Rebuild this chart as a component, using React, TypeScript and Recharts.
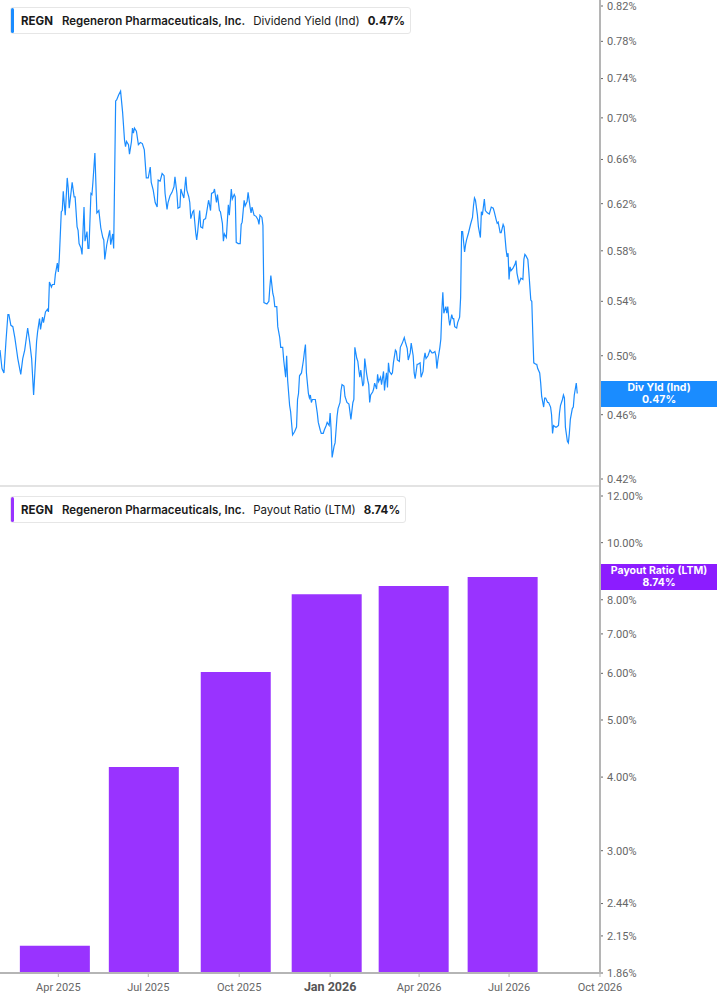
import React from 'react'
import {
  LineChart,
  Line,
  BarChart,
  Bar,
  XAxis,
  YAxis,
} from 'recharts'

// day offset from Feb 1 2025, dividend yield (%)
const yieldSeries: [number, number][] = [
  [0, .504], [2, .491], [4, .488], [6, .510], [8, .530], [9, .530], [11, .522], [13, .521], [15, .513], [17, .503],
  [18, .498], [21, .487], [23, .498], [25, .504], [28, .520], [30, .510], [32, .498], [34, .473], [37, .510], [38, .517],
  [40, .527], [41, .519], [43, .528], [44, .524], [46, .532], [48, .534], [49, .532], [50, .555], [52, .551], [53, .553],
  [55, .553], [56, .561], [58, .570], [59, .563], [60, .574], [62, .613], [63, .614], [64, .631], [66, .610], [68, .643],
  [69, .634], [70, .616], [72, .631], [73, .639], [75, .626], [76, .626], [78, .600], [79, .597], [80, .586], [82, .582],
  [83, .577], [85, .617], [86, .588], [88, .596], [89, .582], [90, .582], [92, .629], [93, .628], [94, .639], [96, .666],
  [98, .612], [100, .614], [102, .599], [104, .591], [105, .589], [106, .573], [108, .585], [111, .597], [112, .585], [114, .594],
  [115, .582], [117, .717], [118, .718], [120, .723], [122, .727], [124, .706], [126, .678], [127, .672], [128, .677], [130, .674],
  [131, .665], [133, .677], [134, .690], [135, .685], [136, .690], [138, .687], [140, .674], [142, .676], [144, .675], [146, .669],
  [148, .643], [150, .643], [152, .653], [153, .639], [155, .632], [157, .621], [159, .617], [160, .641], [162, .640], [164, .647],
  [166, .645], [167, .629], [169, .615], [170, .621], [172, .627], [174, .630], [176, .635], [177, .644], [179, .629], [180, .616],
  [182, .617], [183, .633], [184, .630], [186, .625], [188, .644], [189, .632], [191, .626], [192, .621], [193, .607], [195, .613],
  [196, .614], [198, .595], [199, .589], [200, .596], [202, .614], [203, .600], [205, .599], [206, .606], [208, .607], [209, .612],
  [211, .623], [212, .619], [213, .614], [214, .629], [216, .630], [217, .633], [219, .621], [220, .628], [222, .614], [223, .613],
  [225, .603], [226, .588], [227, .594], [229, .591], [231, .619], [232, .610], [234, .633], [235, .624], [237, .628], [238, .626],
  [239, .587], [241, .586], [243, .586], [244, .602], [245, .604], [247, .623], [248, .618], [250, .622], [251, .630], [253, .617],
  [254, .612], [255, .617], [257, .610], [259, .609], [261, .606], [262, .602], [263, .610], [265, .608], [266, .601], [267, .539],
  [270, .538], [272, .540], [273, .551], [274, .560], [276, .546], [277, .543], [278, .536], [280, .536], [281, .521], [283, .513],
  [284, .506], [286, .506], [287, .497], [289, .485], [290, .500], [291, .483], [293, .466], [294, .462], [296, .447], [298, .449],
  [300, .452], [301, .470], [302, .474], [303, .486], [305, .488], [307, .497], [308, .503], [309, .508], [310, .488], [312, .474],
  [313, .471], [314, .473], [315, .468], [316, .470], [317, .470], [319, .470], [321, .461], [322, .455], [324, .450], [325, .448],
  [327, .448], [328, .450], [330, .453], [331, .455], [333, .453], [334, .461], [335, .450], [336, .433], [338, .440], [339, .442],
  [341, .459], [342, .464], [344, .468], [345, .476], [346, .480], [348, .479], [349, .472], [351, .468], [353, .467], [354, .462],
  [355, .457], [357, .468], [358, .470], [359, .506], [361, .498], [362, .496], [363, .490], [364, .485], [365, .490], [367, .479],
  [368, .481], [369, .498], [371, .487], [372, .483], [373, .480], [374, .468], [375, .473], [377, .475], [378, .477], [379, .481],
  [381, .477], [382, .487], [383, .482], [385, .485], [386, .480], [388, .489], [389, .476], [390, .483], [391, .488], [392, .478],
  [393, .495], [394, .489], [396, .487], [397, .488], [398, .495], [400, .504], [401, .503], [402, .497], [404, .496], [405, .506],
  [407, .509], [409, .513], [410, .510], [412, .505], [413, .497], [415, .502], [416, .509], [418, .500], [419, .488], [420, .484],
  [422, .494], [423, .494], [425, .495], [426, .485], [428, .489], [429, .498], [430, .502], [431, .498], [433, .500], [434, .502],
  [435, .504], [437, .502], [438, .502], [440, .503], [441, .500], [442, .491], [443, .497], [445, .506], [446, .512], [447, .533],
  [448, .547], [449, .531], [451, .536], [452, .531], [453, .536], [454, .527], [455, .522], [457, .530], [458, .527], [459, .527],
  [460, .521], [462, .520], [463, .524], [465, .528], [466, .543], [467, .596], [468, .596], [470, .579], [471, .585], [472, .589],
  [474, .595], [476, .602], [478, .608], [479, .618], [480, .625], [481, .623], [483, .610], [484, .600], [486, .591], [487, .613],
  [488, .610], [490, .624], [491, .614], [493, .612], [495, .611], [497, .617], [499, .616], [500, .613], [502, .606], [503, .603],
  [504, .604], [506, .595], [507, .595], [509, .602], [510, .600], [512, .581], [513, .575], [514, .578], [515, .557], [516, .567],
  [517, .564], [519, .566], [521, .569], [522, .572], [523, .562], [525, .554], [526, .556], [527, .558], [529, .557], [530, .573],
  [531, .577], [532, .576], [534, .573], [535, .563], [537, .541], [538, .540], [539, .516], [540, .495], [542, .494], [543, .494],
  [544, .491], [546, .488], [547, .481], [548, .472], [550, .465], [551, .471], [552, .471], [554, .468], [555, .468], [557, .465],
  [558, .460], [559, .448], [560, .453], [562, .452], [563, .452], [565, .453], [566, .461], [567, .466], [569, .470], [570, .473],
  [571, .471], [572, .452], [574, .443], [575, .442], [576, .448], [577, .457], [579, .464], [580, .465], [581, .473], [583, .481],
  [584, .474],
]

const payoutDays = [56, 146, 239, 331, 419, 509]
const payoutValues = [2.07, 4.16, 6.03, 8.17, 8.44, 8.74]

const xTickDays = [59, 150, 242, 334, 424, 515, 607]
const xTickLabels = ['Apr 2025', 'Jul 2025', 'Oct 2025', 'Jan 2026', 'Apr 2026', 'Jul 2026', 'Oct 2026']
const yieldTicks = [0.42, 0.46, 0.5, 0.54, 0.58, 0.62, 0.66, 0.7, 0.74, 0.78, 0.82]
const payoutTicks = [1.86, 2.15, 2.44, 3, 4, 5, 6, 7, 8, 10, 12]

const BLUE = '#1A8CFF'
const PURPLE = '#9933FF'
const AXIS = '#b5b5b5'
const TICK_TEXT = '#666'

const yieldData = yieldSeries.map(([day, value]) => ({ day, value }))
const payoutData = payoutDays.map((day, i) => ({ day, value: payoutValues[i] }))

const pct = (v: number) => `${v.toFixed(2)}%`

const yTick = { fontSize: 11, fill: TICK_TEXT, fontFamily: 'Roboto, sans-serif' }

function XTick({ x, y, payload }: any) {
  const i = xTickDays.indexOf(payload.value)
  const label = xTickLabels[i] ?? ''
  const bold = label.startsWith('Jan')
  return (
    <text
      x={x}
      y={y + 12}
      textAnchor="middle"
      fontSize={bold ? 12.5 : 11}
      fontWeight={bold ? 700 : 400}
      fill={bold ? '#555' : TICK_TEXT}
      fontFamily="Roboto, sans-serif"
    >
      {label}
    </text>
  )
}

function Legend({ top, color, metric, value }: { top: number; color: string; metric: string; value: string }) {
  return (
    <div
      style={{
        position: 'absolute',
        left: 10,
        top,
        height: 25,
        display: 'flex',
        alignItems: 'center',
        background: '#fff',
        border: '1px solid #e6e6e6',
        borderRadius: 3,
        fontFamily: 'Inter, sans-serif',
        fontSize: 11.5,
        color: '#1a1a1a',
        whiteSpace: 'nowrap',
        paddingRight: 5,
      }}
    >
      <div style={{ width: 3, alignSelf: 'stretch', background: color, borderRadius: 2, marginRight: 7 }} />
      <span style={{ fontWeight: 700, marginRight: 9 }}>REGN</span>
      <span style={{ fontWeight: 600, marginRight: 8 }}>Regeneron Pharmaceuticals, Inc.</span>
      <span style={{ fontWeight: 400, marginRight: 8 }}>{metric}</span>
      <span style={{ fontWeight: 700 }}>{value}</span>
    </div>
  )
}

function Badge({ top, color, title, value }: { top: number; color: string; title: string; value: string }) {
  return (
    <div
      style={{
        position: 'absolute',
        left: 601,
        top,
        width: 116,
        height: 26,
        background: color,
        color: '#fff',
        fontFamily: 'Inter, sans-serif',
        fontWeight: 700,
        fontSize: 10.5,
        lineHeight: '12px',
        textAlign: 'center',
        paddingTop: 1,
        boxSizing: 'border-box',
      }}
    >
      <div>{title}</div>
      <div>{value}</div>
    </div>
  )
}

export default function App() {
  return (
    <div style={{ position: 'absolute', left: 0, top: 0, width: 717, height: 1005, background: '#fff', overflow: 'hidden' }}>
      <div style={{ position: 'absolute', left: 0, top: 0 }}>
        <LineChart width={717} height={486} data={yieldData} margin={{ top: 6, right: 0, left: 0, bottom: 7 }}>
          <XAxis type="number" dataKey="day" domain={[0, 607]} hide />
          <YAxis
            orientation="right"
            type="number"
            scale="log"
            domain={[0.42, 0.82]}
            ticks={yieldTicks}
            tickFormatter={pct}
            width={117}
            axisLine={false}
            tickLine={{ stroke: '#666' }}
            tickSize={3}
            tickMargin={4}
            tick={yTick}
            interval={0}
            allowDataOverflow
          />
          <Line
            type="linear"
            dataKey="value"
            stroke={BLUE}
            strokeWidth={1.2}
            dot={false}
            isAnimationActive={false}
          />
        </LineChart>
      </div>

      <div style={{ position: 'absolute', left: 0, top: 485, width: 600, height: 2, background: '#e3e3e3' }} />

      <div style={{ position: 'absolute', left: 0, top: 486 }}>
        <BarChart width={717} height={519} data={payoutData} margin={{ top: 10, right: 0, left: 0, bottom: 0 }}>
          <XAxis
            type="number"
            dataKey="day"
            domain={[0, 607]}
            ticks={xTickDays}
            interval={0}
            height={32}
            axisLine={{ stroke: AXIS, strokeWidth: 2 }}
            tickLine={{ stroke: AXIS }}
            tickSize={4}
            tick={<XTick />}
          />
          <YAxis
            orientation="right"
            type="number"
            scale="log"
            domain={[1.86, 12]}
            ticks={payoutTicks}
            tickFormatter={pct}
            width={117}
            axisLine={false}
            tickLine={{ stroke: '#666' }}
            tickSize={3}
            tickMargin={4}
            tick={yTick}
            interval={0}
            allowDataOverflow
          />
          <Bar dataKey="value" fill={PURPLE} barSize={70} isAnimationActive={false} />
        </BarChart>
      </div>

      <div style={{ position: 'absolute', left: 599, top: 0, width: 2, height: 974, background: AXIS }} />

      <Legend top={7} color={BLUE} metric="Dividend Yield (Ind)" value="0.47%" />
      <Legend top={496} color={PURPLE} metric="Payout Ratio (LTM)" value="8.74%" />
      <Badge top={381} color={BLUE} title="Div Yld (Ind)" value="0.47%" />
      <Badge top={564} color="#8C1CFF" title="Payout Ratio (LTM)" value="8.74%" />
    </div>
  )
}
